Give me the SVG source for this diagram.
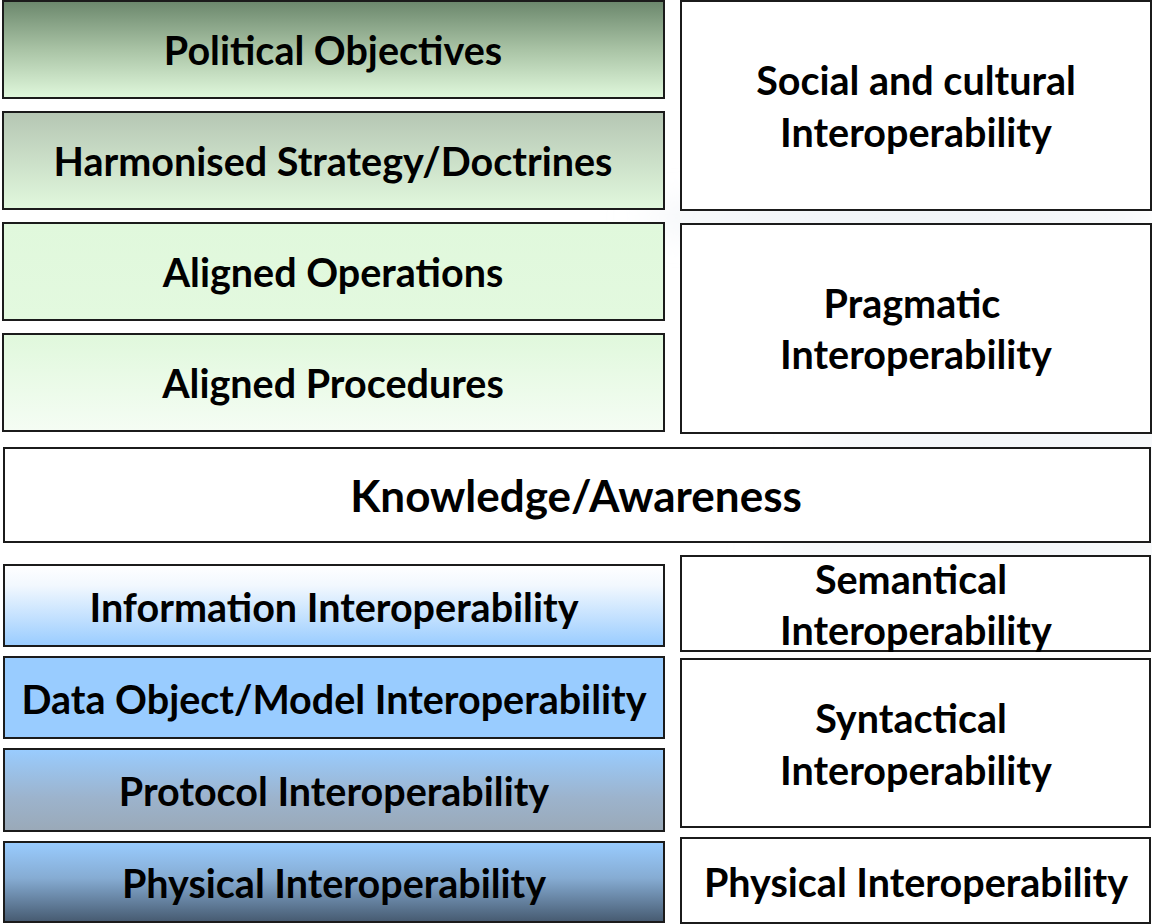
<svg xmlns="http://www.w3.org/2000/svg" width="1152" height="924" viewBox="0 0 1152 924">
<defs>
<style>
.box{stroke:#1b1b1b;stroke-width:2}
.t{font-family:Lato,"Open Sans","Liberation Sans",sans-serif;font-weight:bold;font-size:39.5px;fill:#000;text-anchor:middle}
</style>
<linearGradient id="gPol" x1="0" y1="0" x2="0" y2="1"><stop offset="0" stop-color="#6b876c"/><stop offset="0.5" stop-color="#a9c3a5"/><stop offset="1" stop-color="#e0f8dc"/></linearGradient>
<linearGradient id="gHar" x1="0" y1="0" x2="0" y2="1"><stop offset="0" stop-color="#b5c6b3"/><stop offset="1" stop-color="#e1f8dd"/></linearGradient>
<linearGradient id="gOps" x1="0" y1="0" x2="0" y2="1"><stop offset="0" stop-color="#e0f8dc"/><stop offset="1" stop-color="#e3f9df"/></linearGradient>
<linearGradient id="gPro" x1="0" y1="0" x2="0" y2="1"><stop offset="0" stop-color="#e0f8dc"/><stop offset="1" stop-color="#f5fdf4"/></linearGradient>
<linearGradient id="gInf" x1="0" y1="0" x2="0" y2="1"><stop offset="0" stop-color="#ffffff"/><stop offset="0.25" stop-color="#f2f8fe"/><stop offset="1" stop-color="#99ccff"/></linearGradient>
<linearGradient id="gPrt" x1="0" y1="0" x2="0" y2="1"><stop offset="0" stop-color="#99ccff"/><stop offset="0.6" stop-color="#9cb3cc"/><stop offset="1" stop-color="#9aa9b8"/></linearGradient>
<linearGradient id="gPhy" x1="0" y1="0" x2="0" y2="1"><stop offset="0" stop-color="#99ccff"/><stop offset="0.45" stop-color="#86acd3"/><stop offset="1" stop-color="#465a70"/></linearGradient>
<filter id="blur" x="-50%" y="-50%" width="200%" height="200%"><feGaussianBlur stdDeviation="18"/></filter>
</defs>
<rect width="1152" height="924" fill="#ffffff"/>
<g id="background" filter="url(#blur)" fill="#e4eaf1">
<ellipse cx="900" cy="218" rx="260" ry="12"/>
<ellipse cx="1000" cy="440" rx="200" ry="10"/>
<ellipse cx="980" cy="548" rx="220" ry="10"/>
</g>
<g id="n-political"><rect class="box" x="3" y="1" width="661" height="97" fill="url(#gPol)"/><text class="t" x="333" y="64.5">Political Objectives</text></g>
<g id="n-harmonised"><rect class="box" x="3" y="112" width="661" height="97" fill="url(#gHar)"/><text class="t" x="333" y="175.5">Harmonised Strategy/Doctrines</text></g>
<g id="n-operations"><rect class="box" x="3" y="223" width="661" height="97" fill="url(#gOps)"/><text class="t" x="333" y="286.5">Aligned Operations</text></g>
<g id="n-procedures"><rect class="box" x="3" y="334" width="661" height="97" fill="url(#gPro)"/><text class="t" x="333" y="397.5">Aligned Procedures</text></g>
<g id="n-social"><rect class="box" x="681" y="1" width="470" height="209" fill="#ffffff"/><text class="t" x="916" y="94.5">Social and cultural</text><text class="t" x="916" y="146.5">Interoperability</text></g>
<g id="n-pragmatic"><rect class="box" x="681" y="224" width="470" height="209" fill="#ffffff"/><text class="t" x="912" y="317.5">Pragmatic</text><text class="t" x="916" y="368.5">Interoperability</text></g>
<g id="n-knowledge"><rect class="box" x="4" y="448" width="1146" height="94" fill="#ffffff"/><text class="t" x="576" y="512" style="font-size:44px">Knowledge/Awareness</text></g>
<g id="n-information"><rect class="box" x="4" y="565" width="660" height="81" fill="url(#gInf)"/><text class="t" x="334" y="621.5">Information Interoperability</text></g>
<g id="n-data"><rect class="box" x="4" y="657" width="660" height="81" fill="#99ccff"/><text class="t" x="334" y="713.5">Data Object/Model Interoperability</text></g>
<g id="n-protocol"><rect class="box" x="4" y="749" width="660" height="82" fill="url(#gPrt)"/><text class="t" x="334" y="805.5">Protocol Interoperability</text></g>
<g id="n-physical"><rect class="box" x="4" y="842" width="660" height="80" fill="url(#gPhy)"/><text class="t" x="334" y="897.5">Physical Interoperability</text></g>
<g id="n-semantical"><rect class="box" x="681" y="556" width="469" height="95" fill="#ffffff"/><text class="t" x="911" y="593.5">Semantical</text><text class="t" x="916" y="644.5">Interoperability</text></g>
<g id="n-syntactical"><rect class="box" x="681" y="659" width="469" height="168" fill="#ffffff"/><text class="t" x="911" y="732.5">Syntactical</text><text class="t" x="916" y="784.5">Interoperability</text></g>
<g id="n-physical-r"><rect class="box" x="681" y="838" width="469" height="85" fill="#ffffff"/><text class="t" x="916" y="896.5">Physical Interoperability</text></g>
<g id="connectors"/>
</svg>
